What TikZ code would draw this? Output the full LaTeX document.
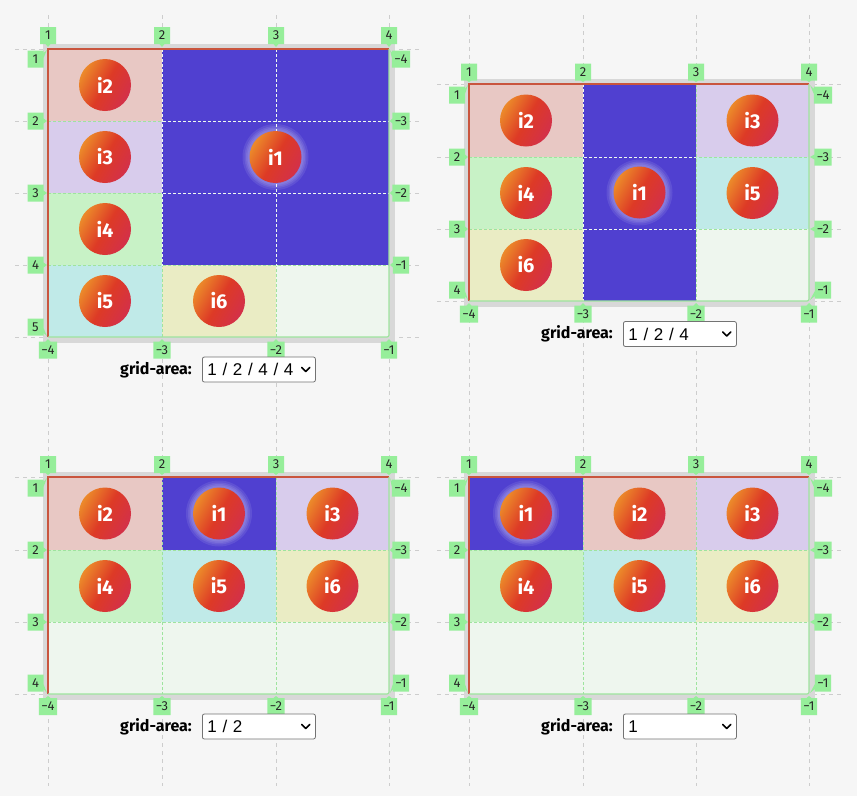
\documentclass[tikz,border=0pt]{standalone}
\usepackage{fontspec}
\setmainfont{Fira Sans}
\newfontfamily\selfont{Liberation Sans}
\usetikzlibrary{shapes.callouts,positioning}
\definecolor{pageBg}{HTML}{F6F6F6}
\definecolor{frameGray}{HTML}{D8D8D8}
\definecolor{guideGray}{HTML}{CDCDCD}
\definecolor{tagGreen}{HTML}{96EE9A}
\definecolor{lineGreen}{HTML}{9EE49E}
\definecolor{edgeRed}{HTML}{C9553E}
\definecolor{cellPink}{HTML}{E8C8C4}
\definecolor{cellLav}{HTML}{D8CCEC}
\definecolor{cellGreen}{HTML}{C8F2C6}
\definecolor{cellCyan}{HTML}{C0EAE8}
\definecolor{cellYellow}{HTML}{EAECC4}
\definecolor{cellEmpty}{HTML}{EEF6EE}
\definecolor{areaBlue}{HTML}{5040D0}
\definecolor{itemL}{HTML}{D3304A}
\definecolor{itemM}{HTML}{DD3A26}
\definecolor{itemR}{HTML}{EC8A2A}
\tikzset{
    guide/.style={draw=guideGray, line width=0.8pt, dash pattern=on 4pt off 4pt},
    inner/.style={draw=lineGreen, line width=1pt, dash pattern=on 3pt off 2pt},
    innerw/.style={draw=white, line width=1pt, dash pattern=on 3pt off 2pt, opacity=0.85},
    edgered/.style={draw=edgeRed, line width=1.2pt},
    edgegreen/.style={draw=lineGreen, line width=1.2pt, rounded corners=2pt},
    tag/.style={rectangle callout, fill=tagGreen, inner xsep=2.5pt, inner ysep=0pt,
                minimum width=16pt, minimum height=17pt, callout pointer width=5pt,
                text=black!85, font=\fontsize{13}{13}\selectfont},
    item/.style={circle, minimum size=52pt, inner sep=0pt, left color=itemL,
                 right color=itemR, middle color=itemM, shading angle=240,
                 text=white, font=\fontsize{20}{20}\selectfont\bfseries},
    glow/.style={fill=white, opacity=0.09},
    lbl/.style={inner sep=0pt, font=\fontsize{16}{16}\selectfont\bfseries},
    select/.style={draw=black!55, fill=white, rounded corners=2pt, line width=0.8pt,
                   text width=103pt, inner xsep=5pt, minimum height=25pt, align=left,
                   anchor=west, font=\selfont\fontsize{17}{17}\selectfont},
    chev/.style={draw=black, line width=1.6pt, line cap=round, line join=round}
}

\begin{document}
\begin{tikzpicture}
  [
    x = 1pt,
    y = -1pt,
  ]
  \useasboundingbox (0,0) rectangle (857,796);
  \fill[pageBg] (0,0) rectangle (857,796);
  \foreach \x in {48,162,276,389,469,583,696,809}
    \draw[guide] (\x,15) -- (\x,786);
  \foreach \y in {49,121,193,265,337}
    \draw[guide] (15,\y) -- (421,\y);
  \foreach \y in {84,157,229,301}
    \draw[guide] (437,\y) -- (843,\y);
  \foreach \y in {477,550,622,694} {
    \draw[guide] (15,\y) -- (421,\y);
    \draw[guide] (437,\y) -- (843,\y);
  }

  % grid-area: 1 / 2 / 4 / 4
  \fill[frameGray] (42.5,43.5) rectangle (394.5,342.5);
  \fill[cellPink] (48,49) rectangle (162,121);
  \fill[cellLav] (48,121) rectangle (162,193);
  \fill[cellGreen] (48,193) rectangle (162,265);
  \fill[cellCyan] (48,265) rectangle (162,337);
  \fill[cellYellow] (162,265) rectangle (276,337);
  \fill[cellEmpty] (276,265) rectangle (389,337);
  \fill[areaBlue] (162,49) rectangle (389,265);
  \foreach \x in {162,276} \draw[inner] (\x,49) -- (\x,337);
  \foreach \y in {121,193,265} \draw[inner] (48,\y) -- (389,\y);
  \begin{scope}
    \clip (162,49) rectangle (389,265);
    \foreach \x in {162,276} \draw[innerw] (\x,49) -- (\x,337);
    \foreach \y in {121,193} \draw[innerw] (48,\y) -- (389,\y);
  \end{scope}
  \draw[edgered] (48,337) -- (48,49) -- (389,49);
  \draw[edgegreen] (389,49) -- (389,337) -- (48,337);
  \foreach \n/\x/\y in {i2/105/85, i3/105/157, i4/105/229, i5/105/301, i6/219/301}
    \node[item] (a\n) at (\x,\y) {\n};
  \foreach \r in {33,31,29.5,28} \fill[glow] (275.5,157) circle (\r);
  \node[item] (ai1) at (275.5,157) {i1};
  \foreach \i/\x in {1/48,2/162,3/276,4/389}
    \node[tag, callout absolute pointer={(\x,47)}] (aT\i) at (\x,35.5) {\i};
  \foreach \i/\y/\p in {1/59/50,2/121/121,3/193/193,4/265/265,5/327/336}
    \node[tag, callout absolute pointer={(47,\p)}] (aL\i) at (35.5,\y) {\i};
  \foreach \i/\y/\p in {4/59/50,3/121/121,2/193/193,1/265/265}
    \node[tag, callout absolute pointer={(390,\p)}] (aR\i) at (401,\y) {−\i};
  \foreach \i/\x in {4/48,3/162,2/276,1/389}
    \node[tag, callout absolute pointer={(\x,339)}] (aB\i) at (\x,350) {−\i};
  \node[select] (aSel) at (202,369.5) {1 / 2 / 4 / 4};
  \node[lbl, left=10pt of aSel] (aLbl) {grid-area:};
  \draw[chev] (aSel.east) ++(-14,-2) -- ++(4,4) -- ++(4,-4);

  % grid-area: 1 / 2 / 4
  \fill[frameGray] (463.5,78.5) rectangle (814.5,306.5);
  \fill[cellPink] (469,84) rectangle (583,157);
  \fill[cellLav] (696,84) rectangle (809,157);
  \fill[cellGreen] (469,157) rectangle (583,229);
  \fill[cellCyan] (696,157) rectangle (809,229);
  \fill[cellYellow] (469,229) rectangle (583,301);
  \fill[cellEmpty] (696,229) rectangle (809,301);
  \fill[areaBlue] (583,84) rectangle (696,301);
  \foreach \x in {583,696} \draw[inner] (\x,84) -- (\x,301);
  \foreach \y in {157,229} \draw[inner] (469,\y) -- (809,\y);
  \begin{scope}
    \clip (583,84) rectangle (696,301);
    \foreach \x in {583} \draw[innerw] (\x,84) -- (\x,301);
    \foreach \y in {157,229} \draw[innerw] (469,\y) -- (809,\y);
  \end{scope}
  \draw[edgered] (469,301) -- (469,84) -- (809,84);
  \draw[edgegreen] (809,84) -- (809,301) -- (469,301);
  \foreach \n/\x/\y in {i2/526/120.5, i3/752.5/120.5, i4/526/193, i5/752.5/193, i6/526/265}
    \node[item] (b\n) at (\x,\y) {\n};
  \foreach \r in {33,31,29.5,28} \fill[glow] (639.5,192.5) circle (\r);
  \node[item] (bi1) at (639.5,192.5) {i1};
  \foreach \i/\x in {1/469,2/583,3/696,4/809}
    \node[tag, callout absolute pointer={(\x,82)}] (bT\i) at (\x,72) {\i};
  \foreach \i/\y/\p in {1/95/85,2/157/157,3/229/229,4/290/300}
    \node[tag, callout absolute pointer={(468,\p)}] (bL\i) at (457,\y) {\i};
  \foreach \i/\y/\p in {4/95/85,3/157/157,2/229/229,1/290/300}
    \node[tag, callout absolute pointer={(810,\p)}] (bR\i) at (823,\y) {−\i};
  \foreach \i/\x in {4/469,3/583,2/696,1/809}
    \node[tag, callout absolute pointer={(\x,303)}] (bB\i) at (\x,314) {−\i};
  \node[select] (bSel) at (623,334) {1 / 2 / 4};
  \node[lbl, left=10pt of bSel] (bLbl) {grid-area:};
  \draw[chev] (bSel.east) ++(-14,-2) -- ++(4,4) -- ++(4,-4);

  % grid-area: 1 / 2
  \fill[frameGray] (42.5,471.5) rectangle (394.5,699.5);
  \fill[cellPink] (48,477) rectangle (162,550);
  \fill[cellLav] (276,477) rectangle (389,550);
  \fill[cellGreen] (48,550) rectangle (162,622);
  \fill[cellCyan] (162,550) rectangle (276,622);
  \fill[cellYellow] (276,550) rectangle (389,622);
  \fill[cellEmpty] (48,622) rectangle (389,694);
  \fill[areaBlue] (162,477) rectangle (276,550);
  \foreach \x in {162,276} \draw[inner] (\x,477) -- (\x,694);
  \foreach \y in {550,622} \draw[inner] (48,\y) -- (389,\y);
  \draw[edgered] (48,694) -- (48,477) -- (389,477);
  \draw[edgegreen] (389,477) -- (389,694) -- (48,694);
  \foreach \n/\x/\y in {i2/105/513.5, i3/332.5/513.5, i4/105/586, i5/219/586, i6/332.5/586}
    \node[item] (c\n) at (\x,\y) {\n};
  \foreach \r in {33,31,29.5,28} \fill[glow] (219,513.5) circle (\r);
  \node[item] (ci1) at (219,513.5) {i1};
  \foreach \i/\x in {1/48,2/162,3/276,4/389}
    \node[tag, callout absolute pointer={(\x,475)}] (cT\i) at (\x,464.5) {\i};
  \foreach \i/\y/\p in {1/488/478,2/550/550,3/622/622,4/683/693}
    \node[tag, callout absolute pointer={(47,\p)}] (cL\i) at (35.5,\y) {\i};
  \foreach \i/\y/\p in {4/488/478,3/550/550,2/622/622,1/683/693}
    \node[tag, callout absolute pointer={(390,\p)}] (cR\i) at (401,\y) {−\i};
  \foreach \i/\x in {4/48,3/162,2/276,1/389}
    \node[tag, callout absolute pointer={(\x,696)}] (cB\i) at (\x,706.5) {−\i};
  \node[select] (cSel) at (202,726.5) {1 / 2};
  \node[lbl, left=10pt of cSel] (cLbl) {grid-area:};
  \draw[chev] (cSel.east) ++(-14,-2) -- ++(4,4) -- ++(4,-4);

  % grid-area: 1
  \fill[frameGray] (463.5,471.5) rectangle (814.5,699.5);
  \fill[cellPink] (583,477) rectangle (696,550);
  \fill[cellLav] (696,477) rectangle (809,550);
  \fill[cellGreen] (469,550) rectangle (583,622);
  \fill[cellCyan] (583,550) rectangle (696,622);
  \fill[cellYellow] (696,550) rectangle (809,622);
  \fill[cellEmpty] (469,622) rectangle (809,694);
  \fill[areaBlue] (469,477) rectangle (583,550);
  \foreach \x in {583,696} \draw[inner] (\x,477) -- (\x,694);
  \foreach \y in {550,622} \draw[inner] (469,\y) -- (809,\y);
  \draw[edgered] (469,694) -- (469,477) -- (809,477);
  \draw[edgegreen] (809,477) -- (809,694) -- (469,694);
  \foreach \n/\x/\y in {i2/639.5/513.5, i3/752.5/513.5, i4/526/586, i5/639.5/586, i6/752.5/586}
    \node[item] (d\n) at (\x,\y) {\n};
  \foreach \r in {33,31,29.5,28} \fill[glow] (526,513.5) circle (\r);
  \node[item] (di1) at (526,513.5) {i1};
  \foreach \i/\x in {1/469,2/583,3/696,4/809}
    \node[tag, callout absolute pointer={(\x,475)}] (dT\i) at (\x,464.5) {\i};
  \foreach \i/\y/\p in {1/488/478,2/550/550,3/622/622,4/683/693}
    \node[tag, callout absolute pointer={(468,\p)}] (dL\i) at (457,\y) {\i};
  \foreach \i/\y/\p in {4/488/478,3/550/550,2/622/622,1/683/693}
    \node[tag, callout absolute pointer={(810,\p)}] (dR\i) at (823,\y) {−\i};
  \foreach \i/\x in {4/469,3/583,2/696,1/809}
    \node[tag, callout absolute pointer={(\x,696)}] (dB\i) at (\x,706.5) {−\i};
  \node[select] (dSel) at (623,726.5) {1};
  \node[lbl, left=10pt of dSel] (dLbl) {grid-area:};
  \draw[chev] (dSel.east) ++(-14,-2) -- ++(4,4) -- ++(4,-4);
\end{tikzpicture}
\end{document}
